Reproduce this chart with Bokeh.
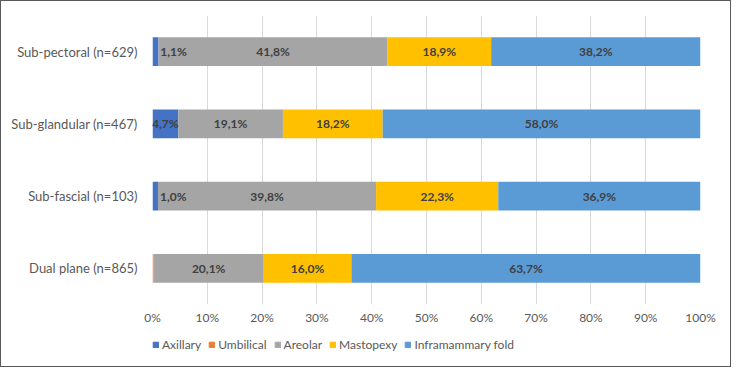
from bokeh.plotting import figure
from bokeh.layouts import column
from bokeh.models import (ColumnDataSource, Range1d, FixedTicker, PrintfTickFormatter,
                          Legend, LegendItem)
from bokeh.core.properties import value
from bokeh.embed import file_html
from bokeh.resources import INLINE

categories = ["Sub-pectoral (n=629)", "Sub-glandular (n=467)", "Sub-fascial (n=103)", "Dual plane (n=865)"]
series = ["Axillary", "Umbilical", "Areolar", "Mastopexy", "Inframammary fold"]
axillary = [1.1, 4.7, 1.0, 0.0]
umbilical = [0.0, 0.0, 0.0, 0.2]
areolar = [41.8, 19.1, 39.8, 20.1]
mastopexy = [18.9, 18.2, 22.3, 16.0]
inframammary = [38.2, 58.0, 36.9, 63.7]
ticks = [0, 10, 20, 30, 40, 50, 60, 70, 80, 90, 100]
colors = ["#4472C4", "#ED7D31", "#A5A5A5", "#FFC000", "#5B9BD5"]

FONT = "Lato"

cats_rev = list(reversed(categories))
data = {"cat": categories, "Axillary": axillary, "Umbilical": umbilical,
        "Areolar": areolar, "Mastopexy": mastopexy, "Inframammary fold": inframammary}
src = ColumnDataSource(data)

p = figure(width=729, height=337, y_range=cats_rev, x_range=Range1d(0, 100),
           output_backend="svg", toolbar_location=None,
           min_border_left=151, min_border_right=30, min_border_top=14, min_border_bottom=34)
p.outline_line_color = None

rs = p.hbar_stack(series, y="cat", height=0.4, color=colors, source=src, line_color=None)

# data labels
lx, ly, lt, loff = [], [], [], []
vals = [axillary, umbilical, areolar, mastopexy, inframammary]
for i, c in enumerate(categories):
    start = 0.0
    for s, v in enumerate(vals):
        val = v[i]
        if val > 0 and s != 1:
            lx.append(start + val / 2)
            ly.append(c)
            lt.append(("%.1f" % val).replace(".", ",") + "%")
            loff.append(18 if val < 2 else 0)
        start += val
lsrc = ColumnDataSource(dict(x=lx, y=ly, t=lt, off=loff))
p.text(x="x", y="y", text="t", x_offset="off", source=lsrc, text_align="center",
       text_baseline="middle", text_font=value(FONT), text_font_size="12px",
       text_font_style="bold", text_color="#404040")

for ax in (p.xaxis, p.yaxis):
    ax.axis_line_color = None
    ax.major_tick_line_color = None
    ax.minor_tick_line_color = None
    ax.major_tick_out = 0
    ax.major_tick_in = 0
    ax.minor_tick_out = 0
    ax.minor_tick_in = 0
    ax.major_label_text_font = FONT
    ax.major_label_text_color = "#595959"

p.xaxis.ticker = FixedTicker(ticks=ticks)
p.xaxis.formatter = PrintfTickFormatter(format="%d%%")
p.xaxis.major_label_text_font_size = "12px"
p.xaxis.major_label_standoff = 5

p.yaxis.major_label_text_font_size = "13px"
p.yaxis.major_label_standoff = 15

p.xgrid.ticker = FixedTicker(ticks=ticks)
p.xgrid.grid_line_color = "#D9D9D9"
p.ygrid.grid_line_color = None

# legend strip below the chart (its frame aligns with the chart's frame)
nan = float("nan")
lf = figure(width=729, height=28, x_range=Range1d(0, 1), y_range=Range1d(0, 1),
            output_backend="svg", toolbar_location=None,
            min_border_left=0, min_border_right=0, min_border_top=0, min_border_bottom=0)
lf.axis.visible = False
lf.grid.visible = False
lf.outline_line_color = None
lrs = [lf.quad(left=[nan], right=[nan], top=[nan], bottom=[nan], color=c) for c in colors]
legend = Legend(items=[LegendItem(label=s, renderers=[r]) for s, r in zip(series, lrs)],
                orientation="horizontal", location=(0, 14),
                glyph_width=7, glyph_height=7, label_standoff=3, spacing=7,
                padding=0, margin=0, border_line_color=None, background_fill_alpha=0,
                label_text_font=FONT, label_text_font_size="12px", label_text_color="#595959")
lf.add_layout(legend, "center")

layout = column(p, lf, spacing=0, styles={"border": "1px solid #595959"})

open("out.html", "w").write(file_html(layout, INLINE))
